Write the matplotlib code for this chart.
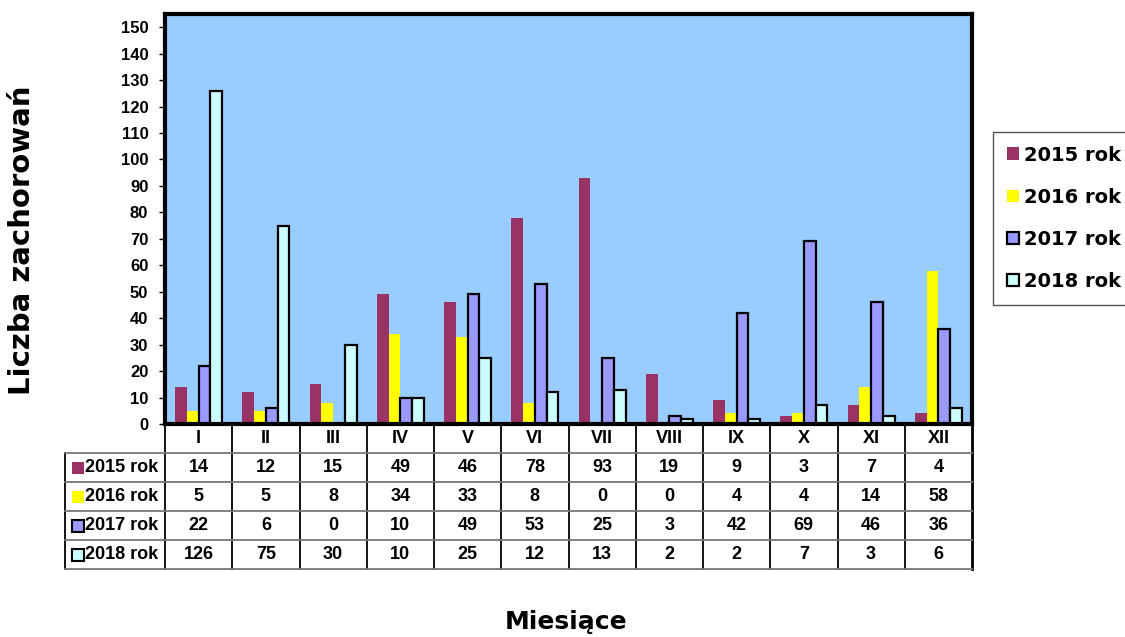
import matplotlib
matplotlib.use("Agg")
import matplotlib.pyplot as plt
from matplotlib.patches import Patch
import numpy as np

plt.rcParams['font.family'] = ['Liberation Sans', 'DejaVu Sans']
plt.rcParams['font.weight'] = 'bold'
WIDE = ['DejaVu Sans']

months = ["I", "II", "III", "IV", "V", "VI", "VII", "VIII", "IX", "X", "XI", "XII"]
series_names = ["2015 rok", "2016 rok", "2017 rok", "2018 rok"]
cases_2015 = [14, 12, 15, 49, 46, 78, 93, 19, 9, 3, 7, 4]
cases_2016 = [5, 5, 8, 34, 33, 8, 0, 0, 4, 4, 14, 58]
cases_2017 = [22, 6, 0, 10, 49, 53, 25, 3, 42, 69, 46, 36]
cases_2018 = [126, 75, 30, 10, 25, 12, 13, 2, 2, 7, 3, 6]
y_ticks = list(range(0, 151, 10))

series = [cases_2015, cases_2016, cases_2017, cases_2018]
face_colors = ["#993366", "#FFFF00", "#9999FF", "#CCFFFF"]
edge_colors = ["none", "none", "black", "black"]
edge_widths = [0, 0, 1.6, 1.6]

W, H = 1125, 637
fig = plt.figure(figsize=(W / 100, H / 100), dpi=100)

def frac(left, top, right, bottom):
    return [left / W, 1 - bottom / H, (right - left) / W, (bottom - top) / H]

# main plot area
ax = fig.add_axes(frac(165, 14, 972, 424))
ax.set_facecolor("#99CCFF")
x = np.arange(len(months))
bw = 0.175
for i, (vals, fc, ec, lw) in enumerate(zip(series, face_colors, edge_colors, edge_widths)):
    ax.bar(x + (i - 1.5) * bw, vals, width=bw, color=fc, edgecolor=ec,
           linewidth=lw, zorder=3)
ax.set_xlim(-0.5, len(months) - 0.5)
ax.set_ylim(0, 155)
ax.set_xticks([])
ax.set_yticks(y_ticks)
ax.set_yticklabels([str(t) for t in y_ticks], fontsize=12, fontweight='bold')
ax.tick_params(axis='y', direction='out', length=4, width=1, pad=8)
for sp in ax.spines.values():
    sp.set_linewidth(3)
    sp.set_zorder(5)

# data table beneath the plot, sharing the category scale
row_h = 29
top_px, bot_px = 424, 424 + row_h * 5
tax = fig.add_axes(frac(165, top_px, 972, bot_px), sharex=ax)
tax.set_ylim(bot_px, top_px)
tax.axis('off')
n = len(months)
label_w = 100 / (807 / n)
xl = -0.5 - label_w

# vertical column dividers
for k in range(n + 1):
    tax.plot([k - 0.5, k - 0.5], [top_px, bot_px], color="black", lw=1.3 if k < n else 2,
             clip_on=False)
tax.plot([xl, xl], [top_px + row_h, bot_px], color="black", lw=1.3, clip_on=False)
# horizontal row dividers
for r in range(1, 6):
    tax.plot([xl, n - 0.5], [top_px + r * row_h] * 2, color="#777777", lw=1.3, clip_on=False)

for j, m in enumerate(months):
    tax.text(j, top_px + row_h / 2, m, ha='center', va='center', fontsize=13,
             fontweight='bold')
for r, (name, vals, fc, ec) in enumerate(zip(series_names, series, face_colors, edge_colors)):
    yc = top_px + (r + 1.5) * row_h
    tax.plot([xl + 0.19], [yc], marker='s', markersize=8, mfc=fc,
             mec=(fc if ec == "none" else ec), mew=(0 if ec == "none" else 1.5),
             clip_on=False)
    tax.text(xl + 0.29, yc, name, ha='left', va='center', fontsize=13, fontweight='bold')
    for j, v in enumerate(vals):
        tax.text(j, yc, str(v), ha='center', va='center', fontsize=13, fontweight='bold')

# legend
handles = [Patch(facecolor=fc, edgecolor=(fc if ec == "none" else ec),
                 linewidth=(0 if ec == "none" else 1.6))
           for fc, ec in zip(face_colors, edge_colors)]
fig.legend(handles, series_names, loc='upper left',
           bbox_to_anchor=(993 / W, 1 - 132 / H), borderaxespad=0,
           prop={'size': 14, 'weight': 'bold', 'family': WIDE},
           handlelength=0.62, handleheight=0.62,
           handletextpad=0.3, labelspacing=1.19, borderpad=0.7, fancybox=False,
           edgecolor="#555555", framealpha=1)

fig.text(22 / W, 1 - 240 / H, "Liczba zachorowań", rotation=90, ha='center', va='center',
         fontsize=21, fontweight='bold', family=WIDE)
fig.text(566 / W, 1 - 629 / H, "Miesiące", ha='center', va='baseline',
         fontsize=18, fontweight='bold', family=WIDE)

fig.savefig("out.png", dpi=100, facecolor="white")
